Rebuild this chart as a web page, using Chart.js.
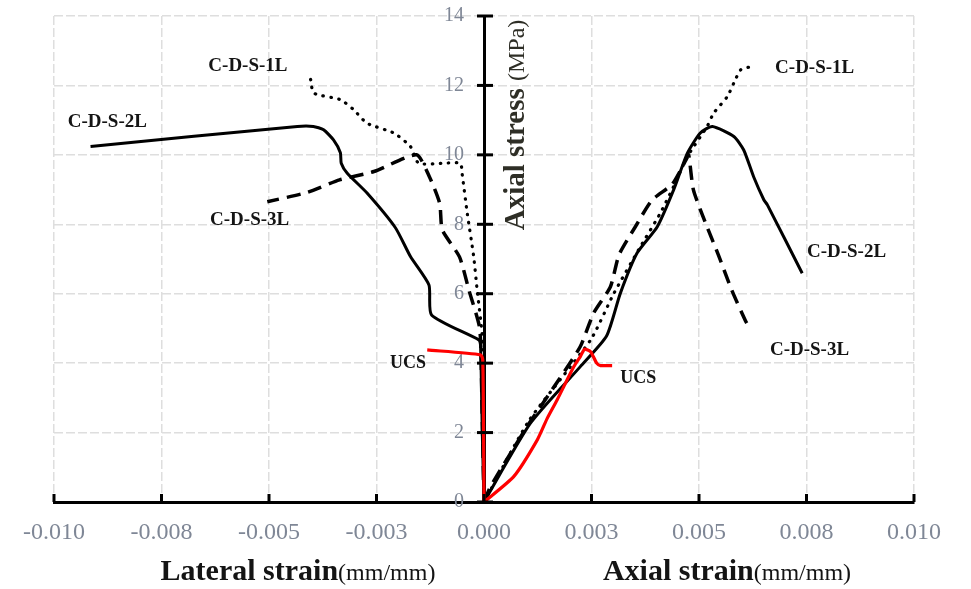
<!DOCTYPE html>
<html>
<head>
<meta charset="utf-8">
<script src="https://cdn.jsdelivr.net/npm/chart.js@4/dist/chart.umd.min.js"></script>
<style>
  html, body { margin: 0; padding: 0; background: #ffffff; }
  #wrap { width: 971px; height: 589px; position: relative; }
</style>
</head>
<body>
<div id="wrap"><canvas id="c"></canvas></div>
<script>
// Tick positions and their printed labels
const xTickValues = [-0.01, -0.0075, -0.005, -0.0025, 0, 0.0025, 0.005, 0.0075, 0.01];
const xTickLabels = ['-0.010', '-0.008', '-0.005', '-0.003', '0.000', '0.003', '0.005', '0.008', '0.010'];
const yTickValues = [0, 2, 4, 6, 8, 10, 12, 14];

// Lateral strain branches (negative strain)
const lat1L_x = [0, -0.00002, -0.00004, -0.00016, -0.00024, -0.00039, -0.00051, -0.00055, -0.00093, -0.00152, -0.00171, -0.0021, -0.00272, -0.00303, -0.00334, -0.00396, -0.00403, -0.00407];
const lat1L_y = [0, 3, 4.76, 6.11, 7.07, 8.32, 9.47, 9.76, 9.76, 9.76, 10.24, 10.63, 10.91, 11.3, 11.59, 11.78, 12.16, 12.3];

const lat2L_x = [0, -0.00004, -0.00008, -0.00012, -0.00122, -0.00128, -0.00171, -0.00206, -0.00272, -0.00318, -0.00332, -0.00334, -0.0035, -0.00373, -0.00397, -0.00434, -0.00915];
const lat2L_y = [0, 2, 4.5, 4.67, 5.39, 6.25, 7.07, 7.9, 8.9, 9.47, 9.76, 10.06, 10.43, 10.72, 10.82, 10.82, 10.24];

const lat3L_x = [0, -0.00005, -0.0001, -0.00035, -0.00057, -0.00097, -0.00103, -0.00127, -0.00157, -0.00256, -0.00336, -0.00411, -0.00504];
const lat3L_y = [0, 3, 5.0, 6.1, 7.06, 7.84, 8.6, 9.37, 10.0, 9.52, 9.28, 8.92, 8.65];

const latUCS_x = [0, -0.00001, -0.00003, -0.00008, -0.00132];
const latUCS_y = [0, 2, 4.1, 4.24, 4.38];

// Axial strain branches (positive strain)
const ax1L_x = [0, 0.00105, 0.00248, 0.00302, 0.00364, 0.0041, 0.00441, 0.00473, 0.00519, 0.00534, 0.00566, 0.00581, 0.00597, 0.00624];
const ax1L_y = [0, 2.35, 4.67, 6.01, 7.36, 8.32, 9.09, 9.95, 10.82, 11.2, 11.68, 12.07, 12.45, 12.55];

const ax2L_x = [0, 0.00108, 0.00224, 0.00285, 0.00317, 0.00356, 0.00403, 0.00441, 0.00473, 0.00503, 0.00531, 0.00581, 0.00604, 0.00627, 0.00651, 0.00659, 0.0074];
const ax2L_y = [0, 2.27, 3.9, 4.78, 6.01, 7.17, 7.93, 8.99, 10.05, 10.63, 10.82, 10.53, 10.14, 9.37, 8.7, 8.56, 6.59];

const ax3L_x = [0, 0.00015, 0.001, 0.00174, 0.00224, 0.00255, 0.00294, 0.00314, 0.00352, 0.00391, 0.00438, 0.0047, 0.00476, 0.00487, 0.00517, 0.00545, 0.00575, 0.00608, 0.0062];
const ax3L_y = [0, 0.44, 2.17, 3.52, 4.48, 5.44, 6.2, 7.12, 7.93, 8.7, 9.16, 9.86, 10.0, 8.99, 7.98, 7.12, 6.14, 5.22, 4.96];

const axUCS_x = [0, 0.00069, 0.00124, 0.00147, 0.0017, 0.00209, 0.00224, 0.00234, 0.00248, 0.00262, 0.00271, 0.00298];
const axUCS_y = [0, 0.73, 1.79, 2.41, 2.94, 3.9, 4.19, 4.4, 4.33, 4.0, 3.93, 3.93];

// Curve names written next to the branches, placed in data units
const curveNames = ['C-D-S-1L', 'C-D-S-2L', 'C-D-S-3L', 'UCS'];
const nameSpotsLateral = [[-0.00549, 12.55], [-0.00876, 10.95], [-0.00545, 8.13], [-0.00177, 4.0]];
const nameSpotsAxial = [[0.00769, 12.5], [0.00843, 7.2], [0.00757, 4.38], [0.00359, 3.57]];

const pts = (xs, ys) => xs.map((x, i) => ({ x: x, y: ys[i] }));

const SERIF = "'Liberation Serif', 'Times New Roman', serif";
const TICK_COLOR = '#7f8796';
const TEXT_COLOR = '#141414';

const solid = { borderColor: '#000000', borderWidth: 3, borderDash: [] };
const dotted = { borderColor: '#000000', borderWidth: 3.2, borderDash: [0.5, 7.5], borderCapStyle: 'round' };
const dashed = { borderColor: '#000000', borderWidth: 3.5, borderDash: [14, 8], borderCapStyle: 'butt' };
const red = { borderColor: '#ff0000', borderWidth: 3.2, borderDash: [] };

const datasets = [
  Object.assign({ label: 'UCS lateral', data: pts(latUCS_x, latUCS_y) }, red),
  Object.assign({ label: 'UCS axial', data: pts(axUCS_x, axUCS_y) }, red),
  Object.assign({ label: 'C-D-S-2L lateral', data: pts(lat2L_x, lat2L_y) }, solid),
  Object.assign({ label: 'C-D-S-2L axial', data: pts(ax2L_x, ax2L_y) }, solid),
  Object.assign({ label: 'C-D-S-1L lateral', data: pts(lat1L_x, lat1L_y) }, dotted),
  Object.assign({ label: 'C-D-S-1L axial', data: pts(ax1L_x, ax1L_y) }, dotted),
  Object.assign({ label: 'C-D-S-3L lateral', data: pts(lat3L_x, lat3L_y) }, dashed),
  Object.assign({ label: 'C-D-S-3L axial', data: pts(ax3L_x, ax3L_y) }, dashed)
];

function drawMixed(ctx, parts, cx, baseline) {
  let total = 0;
  parts.forEach(p => { ctx.font = p.font; p.w = ctx.measureText(p.text).width; total += p.w; });
  let x = cx - total / 2;
  ctx.textAlign = 'left';
  ctx.textBaseline = 'alphabetic';
  parts.forEach(p => { ctx.font = p.font; ctx.fillText(p.text, x, baseline); x += p.w; });
}

// Tick marks crossing the central stress axis, inward ticks on the strain axis,
// axis titles and curve names
const decor = {
  id: 'decor',
  afterDraw(chart) {
    const ctx = chart.ctx;
    const xs = chart.scales.x, ys = chart.scales.y;
    const x0 = xs.getPixelForValue(0);
    const yb = ys.getPixelForValue(0);
    ctx.save();
    ctx.strokeStyle = '#000000';
    ctx.lineWidth = 3;
    ctx.lineCap = 'butt';
    yTickValues.forEach(v => {
      const py = ys.getPixelForValue(v);
      ctx.beginPath(); ctx.moveTo(x0 - 7, py); ctx.lineTo(x0 + 9, py); ctx.stroke();
    });
    xTickValues.forEach(v => {
      const px = xs.getPixelForValue(v);
      ctx.beginPath(); ctx.moveTo(px, yb); ctx.lineTo(px, yb - 8); ctx.stroke();
    });

    ctx.fillStyle = TEXT_COLOR;
    drawMixed(ctx, [
      { text: 'Lateral strain', font: 'bold 30px ' + SERIF },
      { text: '(mm/mm)', font: '24px ' + SERIF }
    ], 298, 580);
    drawMixed(ctx, [
      { text: 'Axial strain', font: 'bold 30px ' + SERIF },
      { text: '(mm/mm)', font: '24px ' + SERIF }
    ], 727, 580);

    ctx.save();
    ctx.translate(515, 125);
    ctx.rotate(-Math.PI / 2);
    ctx.fillStyle = '#2e2e26';
    drawMixed(ctx, [
      { text: 'Axial stress ', font: 'bold 29px ' + SERIF },
      { text: '(MPa)', font: '24px ' + SERIF }
    ], 0, 9);
    ctx.restore();

    ctx.fillStyle = TEXT_COLOR;
    ctx.textAlign = 'center';
    ctx.textBaseline = 'middle';
    [nameSpotsLateral, nameSpotsAxial].forEach(spots => {
      spots.forEach((s, i) => {
        ctx.font = (i === 3 ? 'bold 18px ' : 'bold 19px ') + SERIF;
        ctx.fillText(curveNames[i], xs.getPixelForValue(s[0]), ys.getPixelForValue(s[1]));
      });
    });
    ctx.restore();
  }
};

new Chart(document.getElementById('c'), {
  type: 'line',
  data: { datasets: datasets },
  plugins: [decor],
  options: {
    responsive: true,
    maintainAspectRatio: false,
    animation: false,
    layout: { padding: { left: 54, right: 57, top: 16, bottom: 0 } },
    elements: {
      point: { radius: 0, hoverRadius: 0 },
      line: { tension: 0.2, fill: false }
    },
    plugins: { legend: { display: false }, tooltip: { enabled: false } },
    scales: {
      x: {
        type: 'linear',
        position: 'bottom',
        min: -0.01,
        max: 0.01,
        afterBuildTicks: s => { s.ticks = xTickValues.map(v => ({ value: v })); },
        afterFit: s => { s.height = 87; },
        ticks: {
          autoSkip: false,
          maxRotation: 0,
          padding: 16,
          color: TICK_COLOR,
          font: { family: SERIF, size: 24 },
          callback: (v, i) => xTickLabels[i]
        },
        grid: {
          drawTicks: false,
          lineWidth: 1.5,
          color: c => (c.tick && c.tick.value === 0 ? 'rgba(0,0,0,0)' : '#dedede')
        },
        border: { display: true, color: '#000000', width: 3, dash: [9, 3] }
      },
      y: {
        type: 'linear',
        position: { x: 0 },
        min: 0,
        max: 14,
        afterBuildTicks: s => { s.ticks = yTickValues.map(v => ({ value: v })); },
        ticks: {
          padding: 0,
          color: TICK_COLOR,
          font: { family: SERIF, size: 20 },
          // right-aligned at the axis line; trailing gap keeps the numbers clear of it
          callback: v => String(v) + '    '
        },
        grid: {
          drawTicks: true,
          tickLength: 20,
          tickColor: 'rgba(0,0,0,0)',
          lineWidth: 1.5,
          color: c => (c.tick && c.tick.value === 0 ? 'rgba(0,0,0,0)' : '#dedede')
        },
        border: { display: true, color: '#000000', width: 3, dash: [9, 3] }
      }
    }
  }
});
</script>
</body>
</html>
